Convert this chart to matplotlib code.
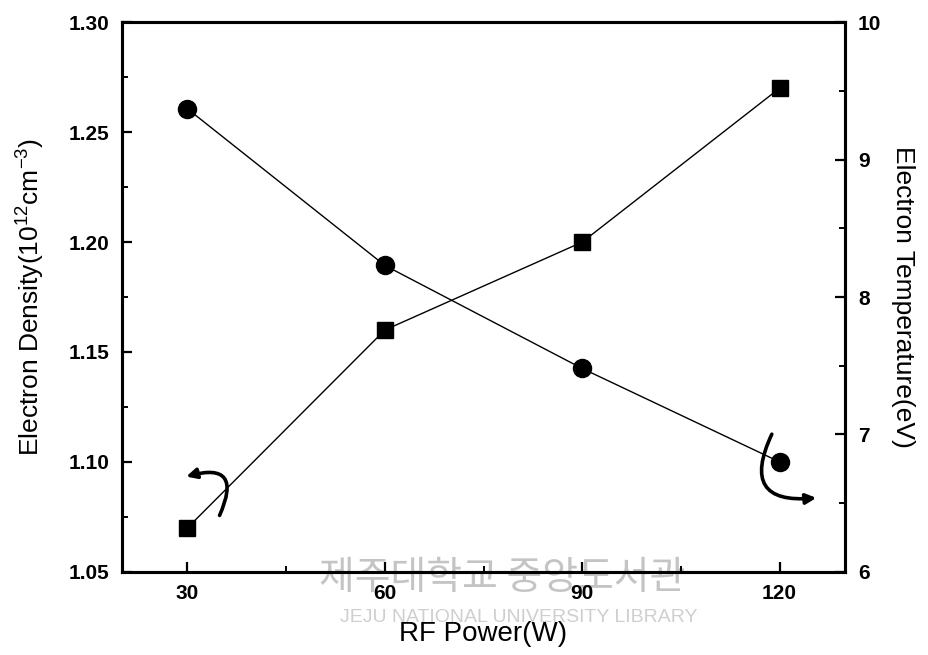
import matplotlib
matplotlib.use("Agg")
import matplotlib.pyplot as plt
from matplotlib.patches import FancyArrowPatch
from matplotlib.ticker import MultipleLocator

# data
rf_power = [30, 60, 90, 120]
density = [1.07, 1.16, 1.20, 1.27]        # 10^12 cm^-3, squares, left axis
temperature = [9.37, 8.23, 7.48, 6.80]    # eV, circles, right axis

plt.rcParams['font.family'] = ['Liberation Sans', 'DejaVu Sans']
plt.rcParams['mathtext.fontset'] = 'custom'
plt.rcParams['mathtext.rm'] = 'Liberation Sans'

fig = plt.figure(figsize=(9.29, 6.55), dpi=100)
ax = fig.add_axes([0.131, 0.127, 0.779, 0.839])
ax2 = ax.twinx()
ax.set_facecolor('none')

ax.plot(rf_power, density, color='black', linewidth=1.0, marker='s',
        markersize=11, markerfacecolor='black', markeredgecolor='black')
ax2.plot(rf_power, temperature, color='black', linewidth=1.0, marker='o',
         markersize=13, markerfacecolor='black', markeredgecolor='black')

ax.set_xlim(20, 130)
ax.set_ylim(1.05, 1.30)
ax2.set_ylim(6, 10)

ax.xaxis.set_major_locator(MultipleLocator(30))
ax.xaxis.set_minor_locator(MultipleLocator(15))
ax.yaxis.set_major_locator(MultipleLocator(0.05))
ax.yaxis.set_minor_locator(MultipleLocator(0.025))
ax2.yaxis.set_major_locator(MultipleLocator(1))
ax2.yaxis.set_minor_locator(MultipleLocator(0.5))
ax.yaxis.set_major_formatter(plt.FormatStrFormatter('%.2f'))

for a in (ax, ax2):
    for sp in a.spines.values():
        sp.set_linewidth(2.2)
    a.tick_params(which='major', direction='in', length=7, width=1.6, labelsize=15)
    a.tick_params(which='minor', direction='in', length=4, width=1.4)
ax.tick_params(axis='y', which='both', right=False, pad=9)
ax.tick_params(axis='x', which='both', top=False, pad=9)
ax2.tick_params(axis='y', which='both', left=False, pad=9)

for lab in ax.get_xticklabels() + ax.get_yticklabels() + ax2.get_yticklabels():
    lab.set_fontweight('bold')

ax.set_xlabel('RF Power(W)', fontsize=20, labelpad=13)
ax.set_ylabel('Electron Density(10$^{12}$cm$^{\\mathrm{-}3}$)', fontsize=19, labelpad=16)
ax2.set_ylabel('Electron Temperature(eV)', fontsize=19, rotation=270, labelpad=24)

# curved arrows pointing to the axis each curve belongs to
arr_l = FancyArrowPatch((34.7, 1.0745), (29.4, 1.093), connectionstyle='arc3,rad=1.1',
                        arrowstyle='-|>,head_length=6,head_width=3', linewidth=2.6,
                        color='black', mutation_scale=1)
ax.add_patch(arr_l)
arr_r = FancyArrowPatch((119.0, 7.02), (126.0, 6.54), connectionstyle='arc3,rad=0.9',
                        arrowstyle='-|>,head_length=6,head_width=3', linewidth=2.6,
                        color='black', mutation_scale=1)
ax2.add_patch(arr_r)

# library watermark of the scanned source
fig.text(0.54, 0.118, '제주대학교 중앙도서관', fontsize=28, color='#c4c4c4',
         family=['Noto Sans CJK KR', 'DejaVu Sans'], ha='center', va='center', zorder=-1)
fig.text(0.558, 0.058, 'JEJU NATIONAL UNIVERSITY LIBRARY', fontsize=14, color='#cfcfcf',
         ha='center', va='center', zorder=-1)

fig.savefig('out.png', dpi=100)
